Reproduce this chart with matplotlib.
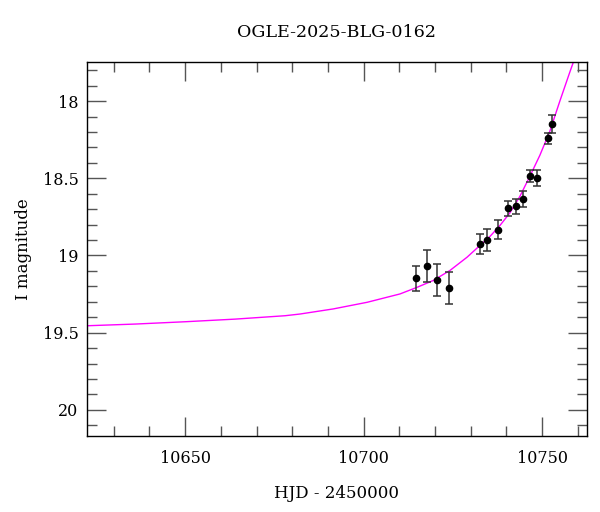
import numpy as np
import matplotlib.pyplot as plt
from matplotlib.ticker import MultipleLocator

# OGLE photometry (HJD - 2450000, I mag, error)
hjd = [10714.7, 10717.7, 10720.7, 10723.8, 10732.6, 10734.7, 10737.6,
       10740.6, 10742.6, 10744.7, 10746.7, 10748.7, 10751.6, 10752.7]
mag = [19.147, 19.069, 19.158, 19.210, 18.927, 18.898, 18.833,
       18.693, 18.680, 18.632, 18.485, 18.498, 18.242, 18.151]
err = [0.080, 0.104, 0.106, 0.105, 0.066, 0.071, 0.061,
       0.049, 0.049, 0.052, 0.036, 0.049, 0.038, 0.058]

# model curve
model_t = [10622.5, 10636.0, 10650.0, 10664.0, 10678.0, 10682.2, 10691.5,
           10701.0, 10710.2, 10715.0, 10719.5, 10724.2, 10729.0, 10732.6,
           10735.4, 10738.2, 10741.0, 10743.8, 10746.6, 10749.4, 10752.2,
           10755.0, 10757.8, 10759.0]
model_m = [19.455, 19.444, 19.429, 19.412, 19.390, 19.379, 19.346,
           19.303, 19.249, 19.206, 19.162, 19.097, 19.011, 18.935,
           18.877, 18.806, 18.724, 18.617, 18.487, 18.351, 18.195,
           18.000, 17.812, 17.734]

plt.rcParams['font.family'] = 'DejaVu Serif'

fig = plt.figure(figsize=(6, 5.12), dpi=100)
ax = fig.add_axes([0.145, 0.1484, 0.8333, 0.7305])

ax.plot(model_t, model_m, color='#ff00ff', lw=1.0, zorder=1)
ax.errorbar(hjd, mag, yerr=err, fmt='o', color='black', ms=4.5,
            ecolor='#333333', elinewidth=1.1, capsize=3, capthick=1.1, zorder=2)

ax.set_xlim(10622.5, 10762.6)
ax.set_ylim(20.169, 17.747)

ax.xaxis.set_major_locator(MultipleLocator(50))
ax.xaxis.set_minor_locator(MultipleLocator(10))
ax.yaxis.set_major_locator(MultipleLocator(0.5))
ax.yaxis.set_minor_locator(MultipleLocator(0.1))
ax.yaxis.set_major_formatter(plt.FuncFormatter(lambda v, p: f'{v:g}'))

ax.tick_params(which='both', direction='in', top=True, right=True,
               color='#555555', width=1.0, labelsize=11.5)
ax.tick_params(axis='x', which='major', length=14, pad=10)
ax.tick_params(axis='y', which='major', length=14, pad=6)
ax.tick_params(which='minor', length=7)
for s in ax.spines.values():
    s.set_linewidth(1.0)

ax.set_title('OGLE-2025-BLG-0162', fontsize=12.6, pad=18)
ax.set_xlabel('HJD - 2450000', fontsize=12, labelpad=13)
ax.set_ylabel('I magnitude', fontsize=12, labelpad=8)

fig.savefig('out.png', dpi=100)
